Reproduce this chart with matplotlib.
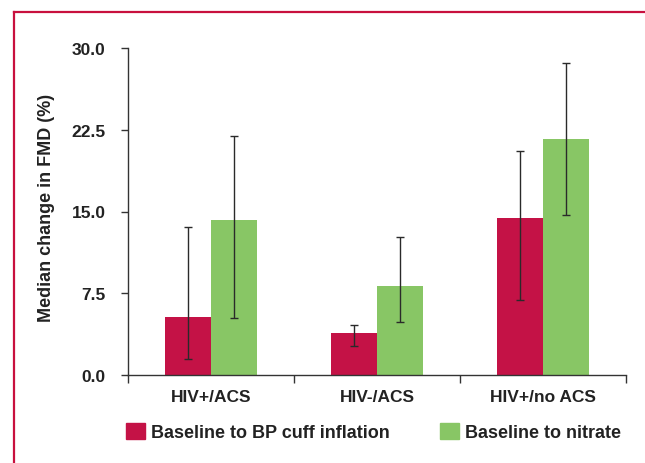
import matplotlib.pyplot as plt
from matplotlib.lines import Line2D
from matplotlib.patches import Patch
import numpy as np

plt.rcParams['font.family'] = ['Liberation Sans', 'DejaVu Sans']
plt.rcParams['font.weight'] = 'bold'

groups = ['HIV+/ACS', 'HIV-/ACS', 'HIV+/no ACS']
series = ['Baseline to BP cuff inflation', 'Baseline to nitrate']
cuff = [5.3, 3.85, 14.4]
cuff_lo = [1.5, 2.65, 6.9]
cuff_hi = [13.6, 4.55, 20.55]
nitrate = [14.2, 8.15, 21.65]
nitrate_lo = [5.25, 4.85, 14.7]
nitrate_hi = [21.9, 12.7, 28.65]
yticks = [0.0, 7.5, 15.0, 22.5, 30.0]

red = '#C41246'
green = '#88C665'
dark = '#333333'

fig = plt.figure(figsize=(6.45, 4.64), dpi=100)
ax = fig.add_axes([128/645, 1-376/464, (626-128)/645, (376-49)/464])

x = np.arange(len(groups))
w = 0.277
ekw = dict(ecolor='#2a2a2a', elinewidth=1.0, capsize=3, capthick=1.0)
ax.bar(x - w/2, cuff, w, color=red, label=series[0],
       yerr=[np.array(cuff) - np.array(cuff_lo), np.array(cuff_hi) - np.array(cuff)], error_kw=ekw)
ax.bar(x + w/2, nitrate, w, color=green, label=series[1],
       yerr=[np.array(nitrate) - np.array(nitrate_lo), np.array(nitrate_hi) - np.array(nitrate)], error_kw=ekw)

ax.set_xlim(-0.5, 2.5)
ax.set_ylim(0, 30)
ax.set_yticks(yticks)
ax.set_yticklabels([f'{v:.1f}' for v in yticks])
ax.set_xticks([-0.5, 0.5, 1.5, 2.5])
ax.set_xticklabels([])
ax.set_xticks(x, minor=True)
ax.set_xticklabels(groups, minor=True)
ax.tick_params(axis='x', which='major', direction='out', length=6, color=dark, width=1)
ax.tick_params(axis='x', which='minor', length=0, pad=10, labelsize=12.5, labelcolor='#222222')
ax.tick_params(axis='y', direction='out', length=5, color=dark, width=1, labelsize=12.5,
               labelcolor='#222222', pad=11)
for s in ['top', 'right']:
    ax.spines[s].set_visible(False)
for s in ['left', 'bottom']:
    ax.spines[s].set_color(dark)
    ax.spines[s].set_linewidth(1.0)
ax.set_ylabel('Median change in FMD (%)', fontsize=13, fontweight='bold', color='#222222')
ax.yaxis.set_label_coords(-0.147, 0.515)

handles = [Patch(color=red), Patch(color=green)]
fig.legend(handles, series, loc='center left', bbox_to_anchor=(126/645, 1-433/464),
           ncol=2, frameon=False, fontsize=13, handlelength=1.05, handleheight=1.05,
           handletextpad=0.33, columnspacing=2.8, borderpad=0, borderaxespad=0,
           labelcolor='#222222')

# red frame top and left
fig.add_artist(Line2D([14/645, 1], [1-13/464, 1-13/464], transform=fig.transFigure,
                      color='#C8103E', linewidth=1.6))
fig.add_artist(Line2D([14/645, 14/645], [0, 1-13/464], transform=fig.transFigure,
                      color='#C8103E', linewidth=1.6))

fig.savefig('out.png', dpi=100)
